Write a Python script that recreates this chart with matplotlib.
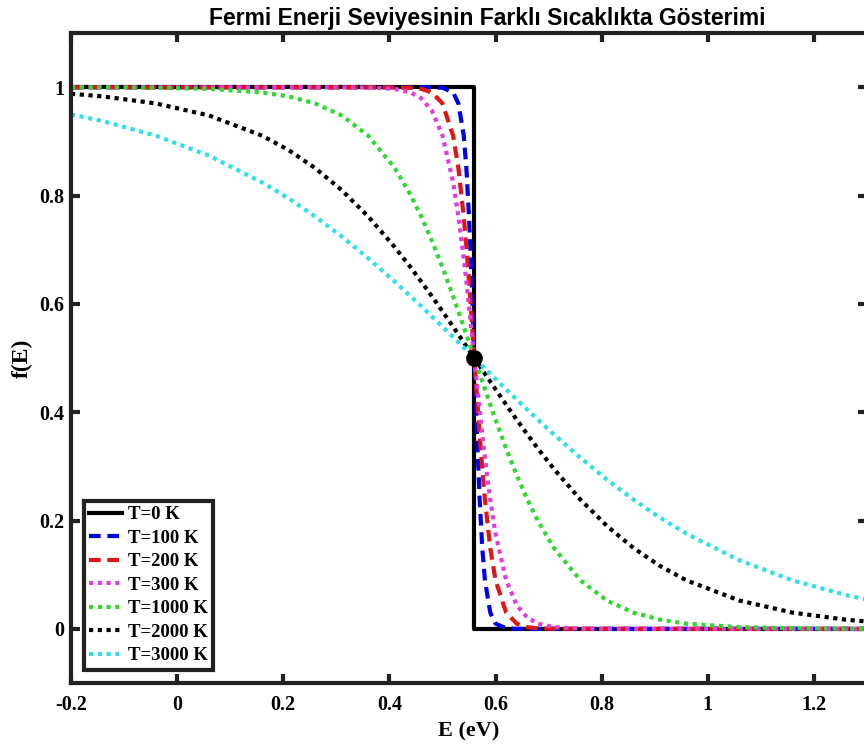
import matplotlib
matplotlib.use("Agg")
import matplotlib.pyplot as plt

plt.rcParams["axes.unicode_minus"] = False

# energy grid (eV), shared by the finite temperature curves
energy = [-0.2, -0.14, -0.04, 0.06, 0.16, 0.21, 0.26, 0.31, 0.36, 0.41,
          0.44, 0.46, 0.48, 0.50, 0.52, 0.53, 0.54, 0.545, 0.55, 0.555,
          0.56, 0.565, 0.57, 0.575, 0.58, 0.59, 0.60, 0.62, 0.64, 0.66,
          0.68, 0.71, 0.76, 0.81, 0.86, 0.91, 0.96, 1.06, 1.16, 1.26, 1.30]

# T = 0 K step
e_t0 = [-0.2, 0.56, 0.56, 1.3]
f_t0 = [1, 1, 0, 0]

f_100 = [1, 1, 1, 1, 1, 1, 1, 1, 1, 1, 1, 1, 0.9999, 0.9991, 0.9905, 0.970,
         0.911, 0.851, 0.761, 0.641, 0.5, 0.359, 0.239, 0.149, 0.089, 0.030,
         0.0095, 0.0009, 0.0001, 0, 0, 0, 0, 0, 0, 0, 0, 0, 0, 0, 0]
f_200 = [1, 1, 1, 1, 1, 1, 1, 1, 1, 0.9998, 0.9990, 0.9970, 0.9905, 0.9701,
         0.9106, 0.8507, 0.7614, 0.7048, 0.641, 0.572, 0.5, 0.428, 0.359,
         0.2952, 0.2386, 0.1493, 0.0894, 0.0299, 0.0095, 0.0030, 0.00095,
         0.0002, 0, 0, 0, 0, 0, 0, 0, 0, 0]
f_300 = [1, 1, 1, 1, 1, 1, 1, 1, 0.9996, 0.9970, 0.9905, 0.9795, 0.9567,
         0.9106, 0.8245, 0.7614, 0.6843, 0.6411, 0.5955, 0.5482, 0.5, 0.4518,
         0.4045, 0.3589, 0.3157, 0.2386, 0.1755, 0.0894, 0.0433, 0.0205,
         0.0095, 0.0030, 0.0004, 0.0001, 0, 0, 0, 0, 0, 0, 0]
f_1000 = [0.9998, 0.9997, 0.9990, 0.9970, 0.9905, 0.9831, 0.9701, 0.9479,
          0.9106, 0.8508, 0.8010, 0.7614, 0.7167, 0.6674, 0.6140, 0.5862,
          0.5578, 0.5434, 0.5290, 0.5145, 0.5, 0.4855, 0.4710, 0.4566,
          0.4422, 0.4138, 0.3860, 0.3326, 0.2833, 0.2386, 0.1990, 0.1492,
          0.0894, 0.0521, 0.0299, 0.0169, 0.0095, 0.0030, 0.0010, 0.0003,
          0.0002]
f_2000 = [0.9880, 0.9831, 0.9701, 0.9479, 0.9106, 0.8840, 0.8508, 0.8101,
          0.7614, 0.7048, 0.6674, 0.6411, 0.6140, 0.5862, 0.5578, 0.5434,
          0.5290, 0.5217, 0.5145, 0.5072, 0.5, 0.4928, 0.4855, 0.4783,
          0.4710, 0.4566, 0.4422, 0.4138, 0.3860, 0.3589, 0.3326, 0.2952,
          0.2386, 0.1899, 0.1492, 0.1160, 0.0894, 0.0521, 0.0299, 0.0169,
          0.0135]
f_3000 = [0.9498, 0.9375, 0.9106, 0.8737, 0.8245, 0.7948, 0.7614, 0.7245,
          0.6843, 0.6411, 0.6140, 0.5955, 0.5768, 0.5578, 0.5386, 0.5290,
          0.5193, 0.5145, 0.5097, 0.5048, 0.5, 0.4952, 0.4903, 0.4855,
          0.4807, 0.4710, 0.4614, 0.4422, 0.4232, 0.4045, 0.3860, 0.3589,
          0.3157, 0.2755, 0.2386, 0.2052, 0.1755, 0.1263, 0.0894, 0.0625,
          0.0541]

fermi_level = 0.56
fermi_value = 0.5

labels = ["T=0 K", "T=100 K", "T=200 K", "T=300 K",
          "T=1000 K", "T=2000 K", "T=3000 K"]
xticks = [-0.2, 0, 0.2, 0.4, 0.6, 0.8, 1, 1.2]
xtick_labels = ["-0.2", "0", "0.2", "0.4", "0.6", "0.8", "1", "1.2"]
yticks = [0, 0.2, 0.4, 0.6, 0.8, 1]
ytick_labels = ["0", "0.2", "0.4", "0.6", "0.8", "1"]

serif = "Liberation Serif"
dash = (0, (2.8, 1.6))
dot = (0, (1, 1.1))

fig = plt.figure(figsize=(8.64, 7.47), dpi=100)
ax = fig.add_axes([0.0822, 0.0857, 0.9213, 0.870])

lw = 3
ax.plot(e_t0, f_t0, color="black", lw=lw, linestyle="-", label=labels[0])
ax.plot(energy, f_100, color="#0000ee", lw=lw, linestyle=dash, label=labels[1])
ax.plot(energy, f_200, color="#e01515", lw=lw, linestyle=dash, label=labels[2])
ax.plot(energy, f_300, color="#e03ce0", lw=lw, linestyle=dot, label=labels[3])
ax.plot(energy, f_1000, color="#30d830", lw=lw, linestyle=dot, label=labels[4])
ax.plot(energy, f_2000, color="black", lw=lw, linestyle=dot, label=labels[5])
ax.plot(energy, f_3000, color="#30e0e8", lw=lw, linestyle=dot, label=labels[6])
ax.plot([fermi_level], [fermi_value], "o", color="black", markersize=11, zorder=10)

ax.set_xlim(-0.2, 1.3)
ax.set_ylim(-0.1, 1.1)
ax.set_xticks(xticks)
ax.set_xticklabels(xtick_labels)
ax.set_yticks(yticks)
ax.set_yticklabels(ytick_labels)

for sp in ax.spines.values():
    sp.set_linewidth(3)
    sp.set_color("#222222")
ax.tick_params(direction="in", length=6.5, width=3, color="#222222",
               top=True, right=True, labelsize=14.5)
ax.tick_params(axis="x", pad=9)
ax.tick_params(axis="y", pad=5)
for t in ax.get_xticklabels() + ax.get_yticklabels():
    t.set_fontfamily(serif)
    t.set_fontweight("bold")

ax.set_xlabel("E (eV)", fontfamily=serif, fontweight="bold", fontsize=16, labelpad=4)
ax.set_ylabel("f(E)", fontfamily=serif, fontweight="bold", fontsize=17, labelpad=4)
ax.set_title("Fermi Enerji Seviyesinin Farklı Sıcaklıkta Gösterimi",
             fontfamily="Liberation Sans", fontweight="bold", fontsize=16.5,
             x=0.523, pad=6)

leg = ax.legend(loc="lower left", bbox_to_anchor=(0.016, 0.02), borderaxespad=0,
                prop={"family": serif, "weight": "bold", "size": 13.5},
                handlelength=1.75, handletextpad=0.3, labelspacing=0.34,
                borderpad=0.3, fancybox=False, framealpha=1)
leg.get_frame().set_edgecolor("#222222")
leg.get_frame().set_linewidth(3)

fig.savefig("out.png", dpi=100)
